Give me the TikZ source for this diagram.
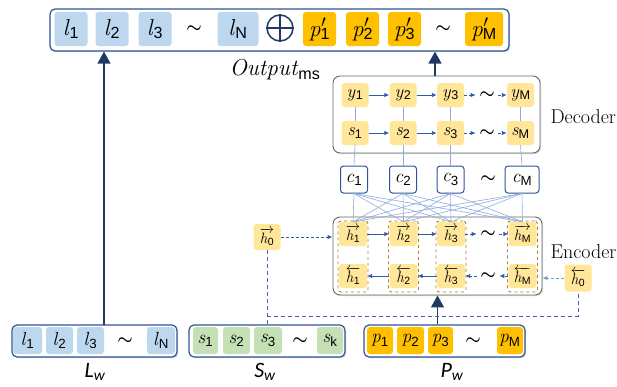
\documentclass[tikz,border=0pt]{standalone}
\usepackage{fontspec}
\newfontfamily\subf{Liberation Sans}
\newfontfamily\calib{Carlito}
\usetikzlibrary{shadows,arrows.meta}
\definecolor{barblue}{HTML}{2F5597}
\definecolor{lblue}{HTML}{BDD7EE}
\definecolor{gold}{HTML}{FFC000}
\definecolor{lyel}{HTML}{FFE699}
\definecolor{lgreen}{HTML}{C5E0B4}
\definecolor{navy}{HTML}{1F3864}
\definecolor{arrblue}{HTML}{2E5DA8}
\definecolor{thinblue}{HTML}{8FAADC}
\definecolor{dashbrown}{HTML}{A88424}
\definecolor{dashpurple}{HTML}{5060B8}
\newcommand\vv[2]{\textit{#1}\textsubscript{\subf #2}}
\newcommand\pv[1]{\textit{p}\makebox[0pt][l]{\kern0.5pt$^{\prime}$}\textsubscript{\subf #1}}
\newcommand\hf[1]{$\overrightarrow{\mbox{\vv{h}{#1}}}$}
\newcommand\hb[1]{$\overleftarrow{\mbox{\vv{h}{#1}}}$}
\newcommand\tld{{\boldmath$\sim$}}
\begin{document}
\begin{tikzpicture}[x=1pt,y=-1pt,
  bar/.style={draw=barblue, line width=1.2pt, rounded corners=5pt, fill=white,
    drop shadow={shadow xshift=1.2pt, shadow yshift=-1.2pt, opacity=0.35}},
  cell/.style={inner sep=0pt, rounded corners=3pt},
  tc/.style={cell, minimum width=33, minimum height=34, font=\fontsize{23}{25}\selectfont},
  bc/.style={cell, minimum width=27, minimum height=27, font=\fontsize{19}{21}\selectfont},
  dc/.style={cell, fill=lyel, minimum width=27, minimum height=24, font=\fontsize{18}{20}\selectfont},
  hc/.style={cell, fill=lyel, minimum width=28, minimum height=24, font=\fontsize{15}{17}\selectfont},
  cc/.style={cell, draw=barblue, line width=1pt, fill=white, minimum width=27, minimum height=27, font=\fontsize{19}{21}\selectfont},
  dbox/.style={draw=black!60, line width=0.9pt, rounded corners=7pt, fill=white,
    drop shadow={shadow xshift=1.2pt, shadow yshift=-1.2pt, opacity=0.3}},
  colbox/.style={draw=dashbrown, dashed, line width=0.9pt, rounded corners=3pt, minimum width=30, minimum height=71},
  tl/.style={font=\fontsize{17}{18}\selectfont},
  thinl/.style={draw=thinblue, line width=0.6pt},
  sa/.style={draw=arrblue, line width=0.9pt, -{Latex[length=5pt,width=4.5pt]}},
  sad/.style={sa, dash pattern=on 3pt off 2pt},
  big/.style={draw=navy, line width=1.3pt, -{Triangle[length=12pt,width=13pt]}},
  dashp/.style={draw=dashpurple, line width=0.9pt, dash pattern=on 4pt off 3pt},
  lab/.style={font=\calib\itshape\fontsize{22}{24}\selectfont}
]
\useasboundingbox (0,0) rectangle (617,386);

% ---------- top output bar
\node[bar, minimum width=459, minimum height=42] (out) at (279.5,30) {};
\node[tc, fill=lblue] (o1) at (71,29) {\vv{l}{1}};
\node[tc, fill=lblue] (o2) at (112,29) {\vv{l}{2}};
\node[tc, fill=lblue] (o3) at (155,29) {\vv{l}{3}};
\node[tl] (ot1) at (194,29) {\tld};
\node[tc, fill=lblue, minimum width=41] (oN) at (238,29) {\vv{l}{N}};
\node[circle, draw=navy, line width=1.5pt, minimum size=26, inner sep=0pt] (op) at (280,28) {};
\draw[navy, line width=1.5pt] (op.north) -- (op.south) (op.west) -- (op.east);
\node[tc, fill=gold] (q1) at (319.5,29) {\pv{1}};
\node[tc, fill=gold] (q2) at (362.5,29) {\pv{2}};
\node[tc, fill=gold] (q3) at (404.5,29) {\pv{3}};
\node[tl] (ot2) at (443,29) {\tld};
\node[tc, fill=gold, minimum width=38] (qM) at (484,29) {\pv{M}};
\node[font=\fontsize{23}{25}\selectfont] (olab) at (275,70) {\textit{Output}\textsubscript{\subf ms}};

% ---------- decoder
\node[dbox, minimum width=207, minimum height=77] (dec) at (436.5,114.5) {};
\node[font=\fontsize{20}{22}\selectfont, anchor=west] (declab) at (547,117) {Decoder};
\foreach \n/\x/\s in {1/355/1,2/403/2,3/450.5/3,M/520.5/M}{
  \node[dc] (y\n) at (\x,95) {\vv{y}{\s}};
  \node[dc] (s\n) at (\x,133) {\vv{s}{\s}};
  \draw[thinl] (y\n.south) -- (s\n.north);
}
\node[tl] (yt) at (487,95) {\tld};
\node[tl] (st) at (487,133) {\tld};
\draw[sa] (y1) -- (y2); \draw[sa] (y2) -- (y3);
\draw[sad] (y3) -- (yt); \draw[sad] (yt) -- (yM);
\draw[sa] (s1) -- (s2); \draw[sa] (s2) -- (s3);
\draw[sad] (s3) -- (st); \draw[sad] (st) -- (sM);

% ---------- context vectors
\node[cc] (c1) at (354,179.5) {\vv{c}{1}};
\node[cc] (c2) at (403,179.5) {\vv{c}{2}};
\node[cc] (c3) at (450.5,179.5) {\vv{c}{3}};
\node[tl] (ct) at (488,179.5) {\tld};
\node[cc, minimum width=34] (cM) at (522,179.5) {\vv{c}{M}};
\foreach \n in {1,2,3,M}{ \draw[thinl] (s\n.south) -- (c\n.north); }

% ---------- encoder
\node[dbox, minimum width=209, minimum height=78] (enc) at (437.5,256) {};
\node[font=\fontsize{20}{22}\selectfont, anchor=west] (enclab) at (547,252) {Encoder};
\foreach \n/\x/\s in {1/353/1,2/403.5/2,3/451/3,M/522.5/M}{
  \node[hc] (hf\n) at (\x,234) {\hf{\s}};
  \node[hc] (hb\n) at (\x,276) {\hb{\s}};
  \node[colbox] (col\n) at (\x,256.5) {};
}
\node[tl] (ht) at (488,234) {\tld};
\node[tl] (hbt) at (488,276) {\tld};
\draw[sa] (hf1) -- (hf2); \draw[sa] (hf2) -- (hf3);
\draw[sad] (hf3) -- (ht); \draw[sad] (ht) -- (hfM);
\draw[sa] (hb2) -- (hb1); \draw[sa] (hb3) -- (hb2);
\draw[sad] (hbt) -- (hb3); \draw[sad] (hbM) -- (hbt);
\foreach \c in {c1,c2,c3,cM}{
  \foreach \h in {hf1,hf2,hf3,hfM}{ \draw[thinl] (\c.south) -- (\h.north); }
}
\node[hc, minimum height=26, minimum width=27] (h0f) at (267,237) {\hf{0}};
\node[hc, minimum height=27, minimum width=27] (h0b) at (578,278) {\hb{0}};
\draw[sad, draw=arrblue] (h0f) -- (enc.west |- h0f);
\draw[sad, draw=thinblue!80!arrblue] (h0b) -- (enc.east |- h0b);

% ---------- bottom input bars
\node[bar, minimum width=165, minimum height=32] (Lw) at (94.5,341) {};
\node[bc, fill=lblue, minimum width=29] (l1) at (27.5,340.5) {\vv{l}{1}};
\node[bc, fill=lblue] (l2) at (59.5,340.5) {\vv{l}{2}};
\node[bc, fill=lblue] (l3) at (90.5,340.5) {\vv{l}{3}};
\node[tl] (lt) at (125,341) {\tld};
\node[bc, fill=lblue, minimum width=28] (lN) at (161,340.5) {\vv{l}{N}};

\node[bar, minimum width=156, minimum height=32] (Sw) at (267,341) {};
\node[bc, fill=lgreen, minimum width=25] (sw1) at (205.5,340.5) {\vv{s}{1}};
\node[bc, fill=lgreen] (sw2) at (236.5,340.5) {\vv{s}{2}};
\node[bc, fill=lgreen, minimum width=28] (sw3) at (268,340.5) {\vv{s}{3}};
\node[tl] (swt) at (300,341) {\tld};
\node[bc, fill=lgreen, minimum width=26] (swk) at (330,340.5) {\vv{s}{k}};

\node[bar, minimum width=161, minimum height=32] (Pw) at (444.5,341) {};
\node[bc, fill=gold, minimum width=26] (p1) at (380,340.5) {\vv{p}{1}};
\node[bc, fill=gold] (p2) at (410.5,340.5) {\vv{p}{2}};
\node[bc, fill=gold, minimum width=25] (p3) at (440.5,340.5) {\vv{p}{3}};
\node[tl] (pt) at (473,341) {\tld};
\node[bc, fill=gold, minimum width=26] (pM) at (510,340.5) {\vv{p}{M}};

\node[lab] (Lwl) at (95,372) {L\textsubscript{w}};
\node[lab] (Swl) at (265,372) {S\textsubscript{w}};
\node[lab] (Pwl) at (452,372) {P\textsubscript{w}};

% ---------- connectors
\coordinate (la) at (104,325);
\draw[big] (la) -- (la |- out.south);
\coordinate (da) at (435,76);
\draw[big] (da) -- (da |- out.south);
\draw[big] (Pw.north -| enc.south) -- (enc.south);
\coordinate (jn) at (267,316);
\draw[dashp] (Sw.north) -- (h0f.south);
\draw[dashp] (jn) -| (h0b.south);
\end{tikzpicture}
\end{document}
